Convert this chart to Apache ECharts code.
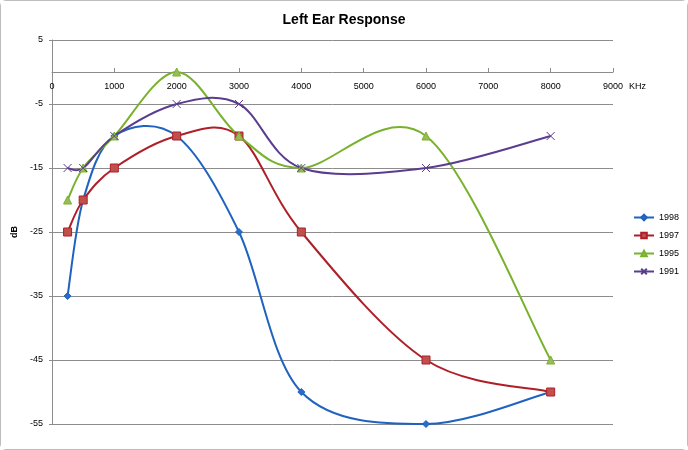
<!DOCTYPE html>
<html><head><meta charset="utf-8">
<script src="https://cdn.jsdelivr.net/npm/echarts@6/dist/echarts.min.js"></script>
<style>
html,body{margin:0;padding:0;background:#fff;}
#wrap{position:absolute;left:0;top:0;width:688px;height:450px;box-sizing:border-box;border:1px solid #bdbdbd;border-radius:6px;}
#c{width:686px;height:448px;}
</style></head>
<body><div id="wrap"><div id="c"></div></div>
<script>
const freqs = [250, 500, 1000, 2000, 3000, 4000, 6000, 8000];
const s1998 = [-35, -20, -10, -10, -25, -50, -55, -50];
const s1997 = [-25, -20, -15, -10, -10, -25, -45, -50];
const s1995 = [-20, -15, -10, 0, -10, -15, -10, -45];
const s1991 = [-15, -15, -10, -5, -5, -15, -15, -10];
const names = ['1998', '1997', '1995', '1991'];

const pairs = ys => freqs.map((f, i) => [f, ys[i]]);
const font = '"Liberation Sans", "DejaVu Sans", sans-serif';
const xPath = 'path://M0,0L10,10M10,0L0,10';

const chart = echarts.init(document.getElementById('c'));

// smooth curve (Catmull-Rom style, like spreadsheet smoothing), drawn through the axes' scales
function curveSeries(name, ys, color) {
  return {
    name, type: 'custom', data: pairs(ys), z: 2, silent: true,
    renderItem(params, api) {
      const i = params.dataIndex;
      if (i >= ys.length - 1) return null;
      const pt = j => api.coord([freqs[Math.max(0, Math.min(ys.length - 1, j))], ys[Math.max(0, Math.min(ys.length - 1, j))]]);
      const p0 = pt(i - 1), p1 = pt(i), p2 = pt(i + 1), p3 = pt(i + 2);
      const k = 1 / 6;
      const c1 = [p1[0] + (p2[0] - p0[0]) * k, p1[1] + (p2[1] - p0[1]) * k];
      const c2 = [p2[0] - (p3[0] - p1[0]) * k, p2[1] - (p3[1] - p1[1]) * k];
      return {
        type: 'bezierCurve',
        shape: {x1: p1[0], y1: p1[1], x2: p2[0], y2: p2[1], cpx1: c1[0], cpy1: c1[1], cpx2: c2[0], cpy2: c2[1]},
        style: {stroke: color, lineWidth: 2, fill: null}
      };
    }
  };
}
function markSeries(name, ys, color, fill, symbol, size) {
  return {
    name, type: 'line', data: pairs(ys), z: 3,
    symbol, symbolSize: size, showSymbol: true,
    lineStyle: {color, width: 0, opacity: 0},
    itemStyle: {color: fill, borderColor: color, borderWidth: 1},
    emphasis: {disabled: true}
  };
}
const colors = ['#1f63bf', '#ae1f28', '#78b22c', '#5b3c8f'];
const fills = ['#2a6cc8', '#c0504d', '#9bbb59', '#7d60a0'];
const symbols = ['diamond', 'rect', 'triangle', xPath];
const sizes = [7, 8, 8, 8];
const datas = [s1998, s1997, s1995, s1991];

const series = [];
names.forEach((n, i) => series.push(markSeries(n, datas[i], colors[i], fills[i], symbols[i], sizes[i])));
names.forEach((n, i) => series.push(curveSeries(n, datas[i], colors[i])));

chart.setOption({
  animation: false,
  backgroundColor: '#fff',
  title: {text: 'Left Ear Response', left: 'center', top: 7,
    textStyle: {fontFamily: font, fontSize: 14, fontWeight: 'bold', color: '#000'}},
  grid: {left: 51, right: 74, top: 39, bottom: 25, containLabel: false},
  legend: {orient: 'vertical', left: 627, top: 207, itemWidth: 20, itemHeight: 7, itemGap: 9,
    textStyle: {fontFamily: font, fontSize: 9, color: '#000'},
    data: names.map((n, i) => ({name: n, lineStyle: {color: colors[i], width: 2, opacity: 1}}))},
  xAxis: {type: 'value', min: 0, max: 9000, interval: 1000,
    offset: -352,
    name: 'KHz', nameLocation: 'end', nameGap: 13,
    nameTextStyle: {fontFamily: font, fontSize: 9, color: '#000', verticalAlign: 'top', padding: [10, 0, 0, 0]},
    axisLine: {onZero: false, lineStyle: {color: '#8c8c8c', width: 1}},
    axisTick: {show: true, inside: true, length: 4, lineStyle: {color: '#8c8c8c'}},
    axisLabel: {fontFamily: font, fontSize: 9, color: '#000', margin: 10, formatter: v => String(v)},
    splitLine: {show: false}},
  yAxis: {type: 'value', min: -55, max: 5, interval: 10,
    name: 'dB', nameLocation: 'middle', nameGap: 33, nameMoveOverlap: false,
    nameTextStyle: {fontFamily: font, fontSize: 9, fontWeight: 'bold', color: '#000'},
    axisLine: {show: true, lineStyle: {color: '#8c8c8c', width: 1}},
    axisTick: {show: true, length: 3, lineStyle: {color: '#8c8c8c'}},
    axisLabel: {fontFamily: font, fontSize: 9, color: '#000', margin: 9},
    splitLine: {show: true, lineStyle: {color: '#8c8c8c', width: 1}}},
  series
});
</script></body></html>
